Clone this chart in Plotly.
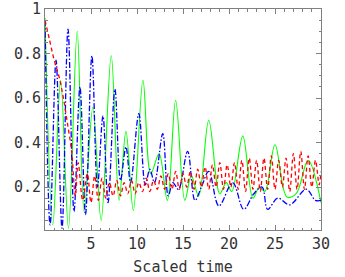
import plotly.graph_objects as go

# Green (solid) series: times and values read from extremes
green_t = [0, 0.85, 1.7, 2.55, 3.5, 4.25, 5.2, 6.1, 7.2, 8.05, 8.8, 9.6, 10.65, 11.5,
           12.4, 13.3, 14.2, 15.2, 15.9, 16.7, 17.8, 19.0, 19.7, 20.3, 21.5, 22.6,
           23.3, 23.9, 25.0, 26.3, 27.3, 28.6, 30]
green_y = [0.96, 0.03, 0.68, 0.015, 0.90, 0.09, 0.56, 0.05, 0.79, 0.14, 0.45, 0.095,
           0.68, 0.26, 0.35, 0.14, 0.59, 0.14, 0.25, 0.16, 0.50, 0.17, 0.22, 0.18,
           0.43, 0.15, 0.20, 0.18, 0.39, 0.155, 0.17, 0.32, 0.13]

# Blue (dash-dot) series
blue_t = [0, 0.55, 1.2, 1.85, 2.5, 3.15, 3.8, 4.4, 5.1, 5.7, 6.3, 6.85, 7.6, 8.2, 8.8,
          9.3, 10.2, 10.9, 11.4, 11.9, 12.8, 13.4, 13.9, 14.5, 15.5, 16.3, 17.0, 17.8,
          18.9, 20.4, 21.6, 22.7, 23.6, 24.2, 25.3, 26.6, 28.4, 29.4, 30]
blue_y = [0.95, 0.03, 0.77, 0.015, 0.91, 0.09, 0.65, 0.075, 0.79, 0.20, 0.52, 0.13,
          0.64, 0.23, 0.38, 0.22, 0.53, 0.21, 0.28, 0.22, 0.44, 0.16, 0.22, 0.19,
          0.36, 0.14, 0.20, 0.27, 0.115, 0.22, 0.10, 0.17, 0.20, 0.10, 0.15, 0.12,
          0.19, 0.14, 0.14]

# Red (dashed) series
red_t = [0, 0.5, 1.0, 1.5, 2.0, 2.5, 2.9, 3.3, 3.6, 4.1, 4.6, 5.0, 5.4, 5.8, 6.2, 6.6,
         7.0, 7.4, 7.8, 8.2, 8.6, 9.0, 9.4, 9.8, 10.2, 10.6, 11.0, 11.4, 11.8, 12.2,
         12.6, 13.0, 13.4, 13.8, 14.2, 14.6, 15.0, 15.4, 15.8, 16.2, 16.6, 17.0, 17.4,
         17.8, 18.2, 18.6, 19.0, 19.4, 19.8, 20.2, 20.6, 21.0, 21.4, 21.8, 22.2, 22.6,
         23.0, 23.4, 23.8, 24.2, 24.6, 25.0, 25.4, 25.8, 26.2, 26.6, 27.0, 27.4, 27.8,
         28.2, 28.6, 29.0, 29.4, 29.8, 30.0]
red_y = [0.95, 0.86, 0.77, 0.70, 0.60, 0.47, 0.36, 0.16, 0.31, 0.14, 0.26, 0.13, 0.25,
         0.14, 0.24, 0.15, 0.22, 0.16, 0.23, 0.16, 0.22, 0.17, 0.23, 0.17, 0.22, 0.18,
         0.24, 0.18, 0.23, 0.19, 0.25, 0.19, 0.26, 0.19, 0.27, 0.19, 0.26, 0.20, 0.27,
         0.19, 0.28, 0.20, 0.29, 0.19, 0.30, 0.20, 0.31, 0.19, 0.30, 0.20, 0.31, 0.19,
         0.32, 0.18, 0.33, 0.19, 0.32, 0.18, 0.33, 0.19, 0.34, 0.19, 0.32, 0.20, 0.33,
         0.18, 0.35, 0.19, 0.36, 0.19, 0.34, 0.20, 0.32, 0.21, 0.27]

x_ticks = [5, 10, 15, 20, 25, 30]
y_ticks = [0.2, 0.4, 0.6, 0.8, 1.0]
y_labels = ["0.2", "0.4", "0.6", "0.8", "1"]

fig = go.Figure()
fig.add_trace(go.Scatter(x=green_t, y=green_y, mode="lines",
                         line=dict(color="#00ff00", width=1.1, shape="spline", smoothing=1.0)))
fig.add_trace(go.Scatter(x=blue_t, y=blue_y, mode="lines",
                         line=dict(color="#0000ff", width=1.3, shape="spline", smoothing=1.0,
                                   dash="6px,2px,1.5px,2px")))
fig.add_trace(go.Scatter(x=red_t, y=red_y, mode="lines",
                         line=dict(color="#ff0000", width=1.3, shape="spline", smoothing=1.0,
                                   dash="4px,3px")))

axis_font = dict(family="DejaVu Sans Mono", size=15, color="#333333")
fig.update_layout(
    width=345, height=277,
    margin=dict(l=45, r=24, t=9, b=47),
    paper_bgcolor="white", plot_bgcolor="white",
    showlegend=False,
    font=axis_font,
    xaxis=dict(range=[0, 30], tickvals=x_ticks, ticks="inside", ticklen=5,
               tickcolor="#808080", showline=True, linecolor="#808080", linewidth=1,
               mirror="ticks", showgrid=False, zeroline=False, tickfont=axis_font,
               automargin=False,
               minor=dict(dtick=1, tick0=0, ticks="inside", ticklen=2.5,
                          tickcolor="#808080", showgrid=False),
               title=dict(text="Scaled time", font=axis_font, standoff=9)),
    yaxis=dict(range=[0.007, 1.0], tickvals=y_ticks, ticktext=y_labels, ticks="inside",
               ticklen=5, tickcolor="#808080", showline=True, linecolor="#808080",
               linewidth=1, mirror="ticks", showgrid=False, zeroline=False,
               tickfont=axis_font, automargin=False,
               minor=dict(dtick=0.05, tick0=0, ticks="inside", ticklen=2.5,
                          tickcolor="#808080", showgrid=False)),
)

fig.write_html("out.html", config={"displayModeBar": False},
               post_script="document.body.style.margin='0';")
